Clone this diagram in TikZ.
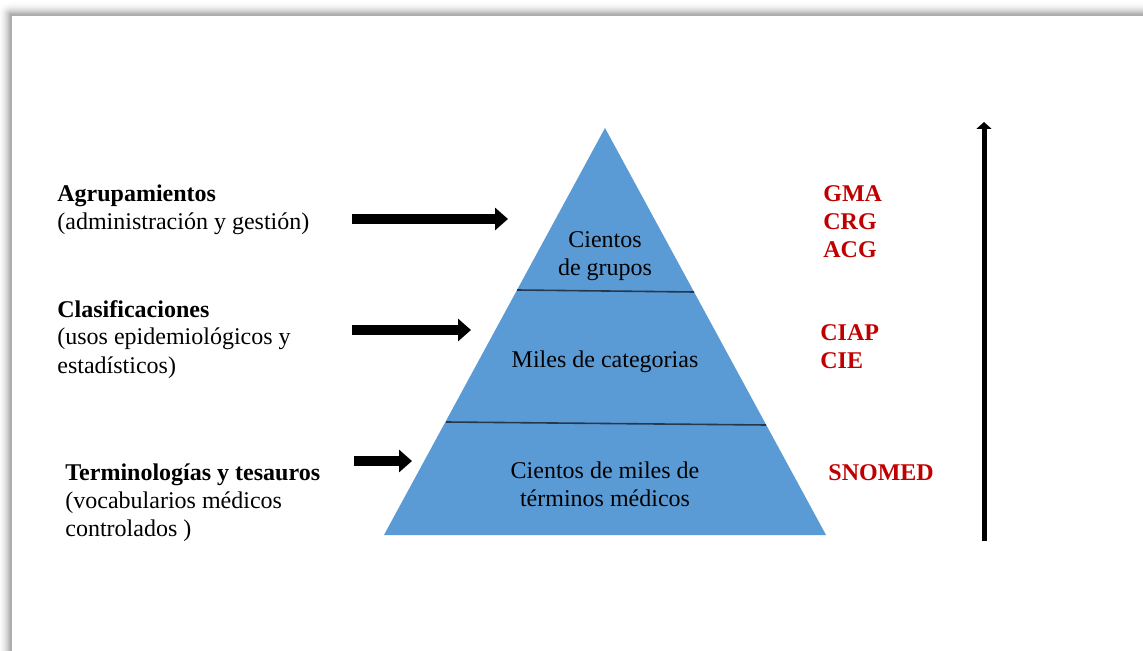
\documentclass[tikz,border=0pt]{standalone}
\usepackage{fontspec}
\setmainfont{Liberation Serif}
\usetikzlibrary{arrows.meta}

\definecolor{pyrblue}{RGB}{91,155,213}
\definecolor{codered}{RGB}{192,0,0}
\definecolor{tierline}{RGB}{38,55,80}

\begin{document}
\begin{tikzpicture}[x=0.5pt,y=-0.5pt,
        txt/.style={inner sep=0pt, font=\fontsize{12pt}{14pt}\selectfont},
        lbl/.style={txt, anchor=base west, align=left},
        tier/.style={txt, anchor=base, align=center},
        code/.style={lbl, text=codered, font=\fontsize{12pt}{14pt}\selectfont\bfseries},
        fat/.style={line width=5pt, -{Triangle[length=6.5pt,width=11pt]}}]
    \useasboundingbox (0,0) rectangle (1143,651);
    \clip (0,0) rectangle (1143,651);

    % frame with soft shadow
    \foreach \d in {12,...,0}{
        \pgfmathsetmacro\shd{32*(1-\d/13)^2}
        \fill[black!\shd, rounded corners=\d*0.5pt+0.1pt] (10-\d,14-\d) rectangle (1160,670);
    }
    \fill[white] (12,16) rectangle (1160,670);

    % pyramid (node base = last line)
    \fill[pyrblue] (605,128) -- (826,535) -- (384,535) -- cycle;
    \draw[tierline, line width=0.8pt] (517,290) -- (694,292);
    \draw[tierline, line width=0.8pt] (446,422) -- (766,425);

    \node[tier] (grupos) at (605,276) {Cientos\\de grupos};
    \node[tier] (categ) at (605,367) {Miles de categorias};
    \node[tier] (terminos) at (605,506) {Cientos de miles de\\términos médicos};

    % left labels
    \node[lbl] (agrup) at (57,230) {\textbf{Agrupamientos}\\(administración y gestión)};
    \node[lbl] (clasif) at (57,373) {\textbf{Clasificaciones}\\(usos epidemiológicos y\\estadísticos)};
    \node[lbl] (termin) at (65,536) {\textbf{Terminologías y tesauros}\\(vocabularios médicos\\controlados )};

    % codes
    \node[code] (gma) at (823,258) {GMA\\CRG\\ACG};
    \node[code] (ciap) at (820,369) {CIAP\\CIE};
    \node[code] (snomed) at (828,480) {SNOMED};

    % arrows
    \coordinate (agrup-a) at (352,219);
    \coordinate (agrup-b) at (508,219);
    \coordinate (clasif-a) at (352,330);
    \coordinate (clasif-b) at (471,330);
    \coordinate (termin-a) at (354,461);
    \coordinate (termin-b) at (412,461);
    \draw[fat] (agrup-a) -- (agrup-b);
    \draw[fat] (clasif-a) -- (clasif-b);
    \draw[fat] (termin-a) -- (termin-b);

    \coordinate (scale-lo) at (984,541);
    \coordinate (scale-hi) at (984,122);
    \draw[line width=2.5pt, -{Triangle[length=3.5pt,width=7.5pt]}] (scale-lo) -- (scale-hi);
\end{tikzpicture}
\end{document}
